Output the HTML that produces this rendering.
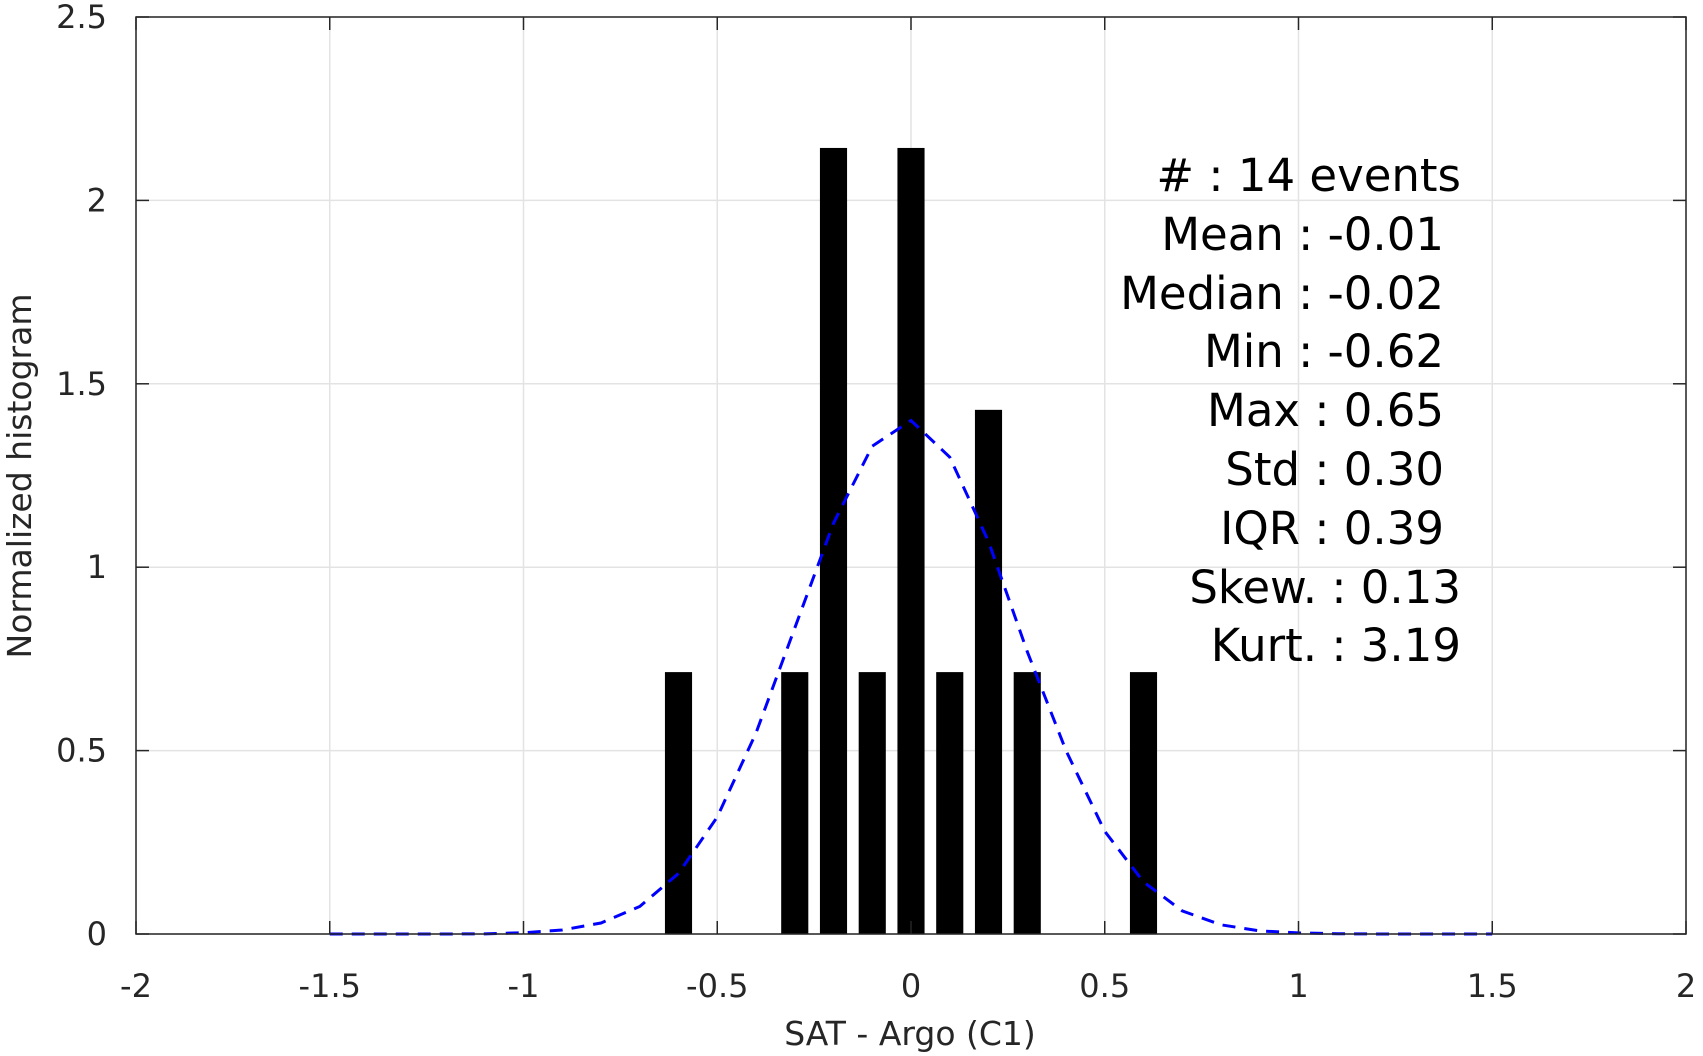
<!DOCTYPE html>
<html><head><meta charset="utf-8"><style>
html,body{margin:0;padding:0;background:#fff}
svg{display:block;font-family:"DejaVu Sans","Liberation Sans",sans-serif}
</style></head><body>
<svg id="chart" width="1703" height="1056" viewBox="0 0 1703 1056" xmlns="http://www.w3.org/2000/svg">
<g id="grid"></g>
<g id="bars"></g>
<polyline id="fit" fill="none" stroke="#0000ff" stroke-width="3" stroke-dasharray="13,9"/>
<g id="axes"></g>
<text x="910" y="1045" font-size="33" fill="#262626" text-anchor="middle">SAT - Argo (C1)</text>
<text transform="translate(31,476) rotate(-90)" font-size="33" fill="#262626" text-anchor="middle">Normalized histogram</text>
<g font-size="45" fill="#000" text-anchor="end">
<text x="1461" y="191">#  : 14 events</text>
<text x="1444" y="250">Mean : -0.01</text>
<text x="1444" y="309">Median : -0.02</text>
<text x="1444" y="367">Min : -0.62</text>
<text x="1444" y="426">Max : 0.65</text>
<text x="1444" y="485">Std : 0.30</text>
<text x="1444" y="544">IQR : 0.39</text>
<text x="1461" y="603">Skew. : 0.13</text>
<text x="1461" y="661">Kurt. : 3.19</text>
</g>
</svg>
<script>
const barCenters=[-0.6,-0.3,-0.2,-0.1,0,0.1,0.2,0.3,0.6];
const barValues=[0.714,0.714,2.143,0.714,2.143,0.714,1.429,0.714,0.714];
const fitX=[-1.5,-1.4,-1.3,-1.2,-1.1,-1.0,-0.9,-0.8,-0.7,-0.6,-0.5,-0.4,-0.3,-0.2,-0.1,0,0.1,0.2,0.3,0.4,0.5,0.6,0.7,0.8,0.9,1.0,1.1,1.2,1.3,1.4,1.5];
const fitY=[0,0,0,0,0.0005,0.0034,0.011,0.03,0.075,0.165,0.319,0.548,0.834,1.12,1.33,1.40,1.30,1.07,0.77,0.50,0.28,0.142,0.063,0.025,0.0085,0.003,0.0008,0,0,0,0];
const xTicks=[-2,-1.5,-1,-0.5,0,0.5,1,1.5,2];
const xTickLabels=["-2","-1.5","-1","-0.5","0","0.5","1","1.5","2"];
const yTicks=[0,0.5,1,1.5,2,2.5];
const yTickLabels=["0","0.5","1","1.5","2","2.5"];
const L=136,R=1686,T=17,B=934;
const X=v=>L+(v+2)/4*(R-L);
const Y=v=>B-v/2.5*(B-T);
const NS="http://www.w3.org/2000/svg";
function mk(tag,attrs,parent){const e=document.createElementNS(NS,tag);for(const k in attrs)e.setAttribute(k,attrs[k]);parent.appendChild(e);return e;}
const grid=document.getElementById('grid');
xTicks.forEach(v=>{const l=mk('line',{x1:X(v),x2:X(v),y1:T,y2:B,stroke:'#e3e3e3','stroke-width':1.5},grid);

});
yTicks.forEach(v=>{const l=mk('line',{x1:L,x2:R,y1:Y(v),y2:Y(v),stroke:'#e3e3e3','stroke-width':1.5},grid);

});
const bars=document.getElementById('bars');
const bw=0.07*(R-L)/4;
barCenters.forEach((c,i)=>{const r=mk('rect',{x:X(c)-bw/2,y:Y(barValues[i]),width:bw,height:B-Y(barValues[i]),fill:'#000'},bars);

});
document.getElementById('fit').setAttribute('points',fitX.map((x,i)=>X(x)+','+Y(fitY[i])).join(' '));
const ax=document.getElementById('axes');
const frame=mk('rect',{x:L,y:T,width:R-L,height:B-T,fill:'none',stroke:'#262626','stroke-width':1.5},ax);


xTicks.forEach((v,i)=>{mk('line',{x1:X(v),x2:X(v),y1:B,y2:B-13,stroke:'#262626','stroke-width':1.5},ax);
mk('line',{x1:X(v),x2:X(v),y1:T,y2:T+13,stroke:'#262626','stroke-width':1.5},ax);
const t=mk('text',{x:X(v),y:997,'font-size':32,fill:'#262626','text-anchor':'middle'},ax);t.textContent=xTickLabels[i];

});
yTicks.forEach((v,i)=>{mk('line',{x1:L,x2:L+13,y1:Y(v),y2:Y(v),stroke:'#262626','stroke-width':1.5},ax);
mk('line',{x1:R,x2:R-13,y1:Y(v),y2:Y(v),stroke:'#262626','stroke-width':1.5},ax);
const t=mk('text',{x:107,y:Y(v)+11,'font-size':32,fill:'#262626','text-anchor':'end'},ax);t.textContent=yTickLabels[i];

});
</script>
</body></html>
